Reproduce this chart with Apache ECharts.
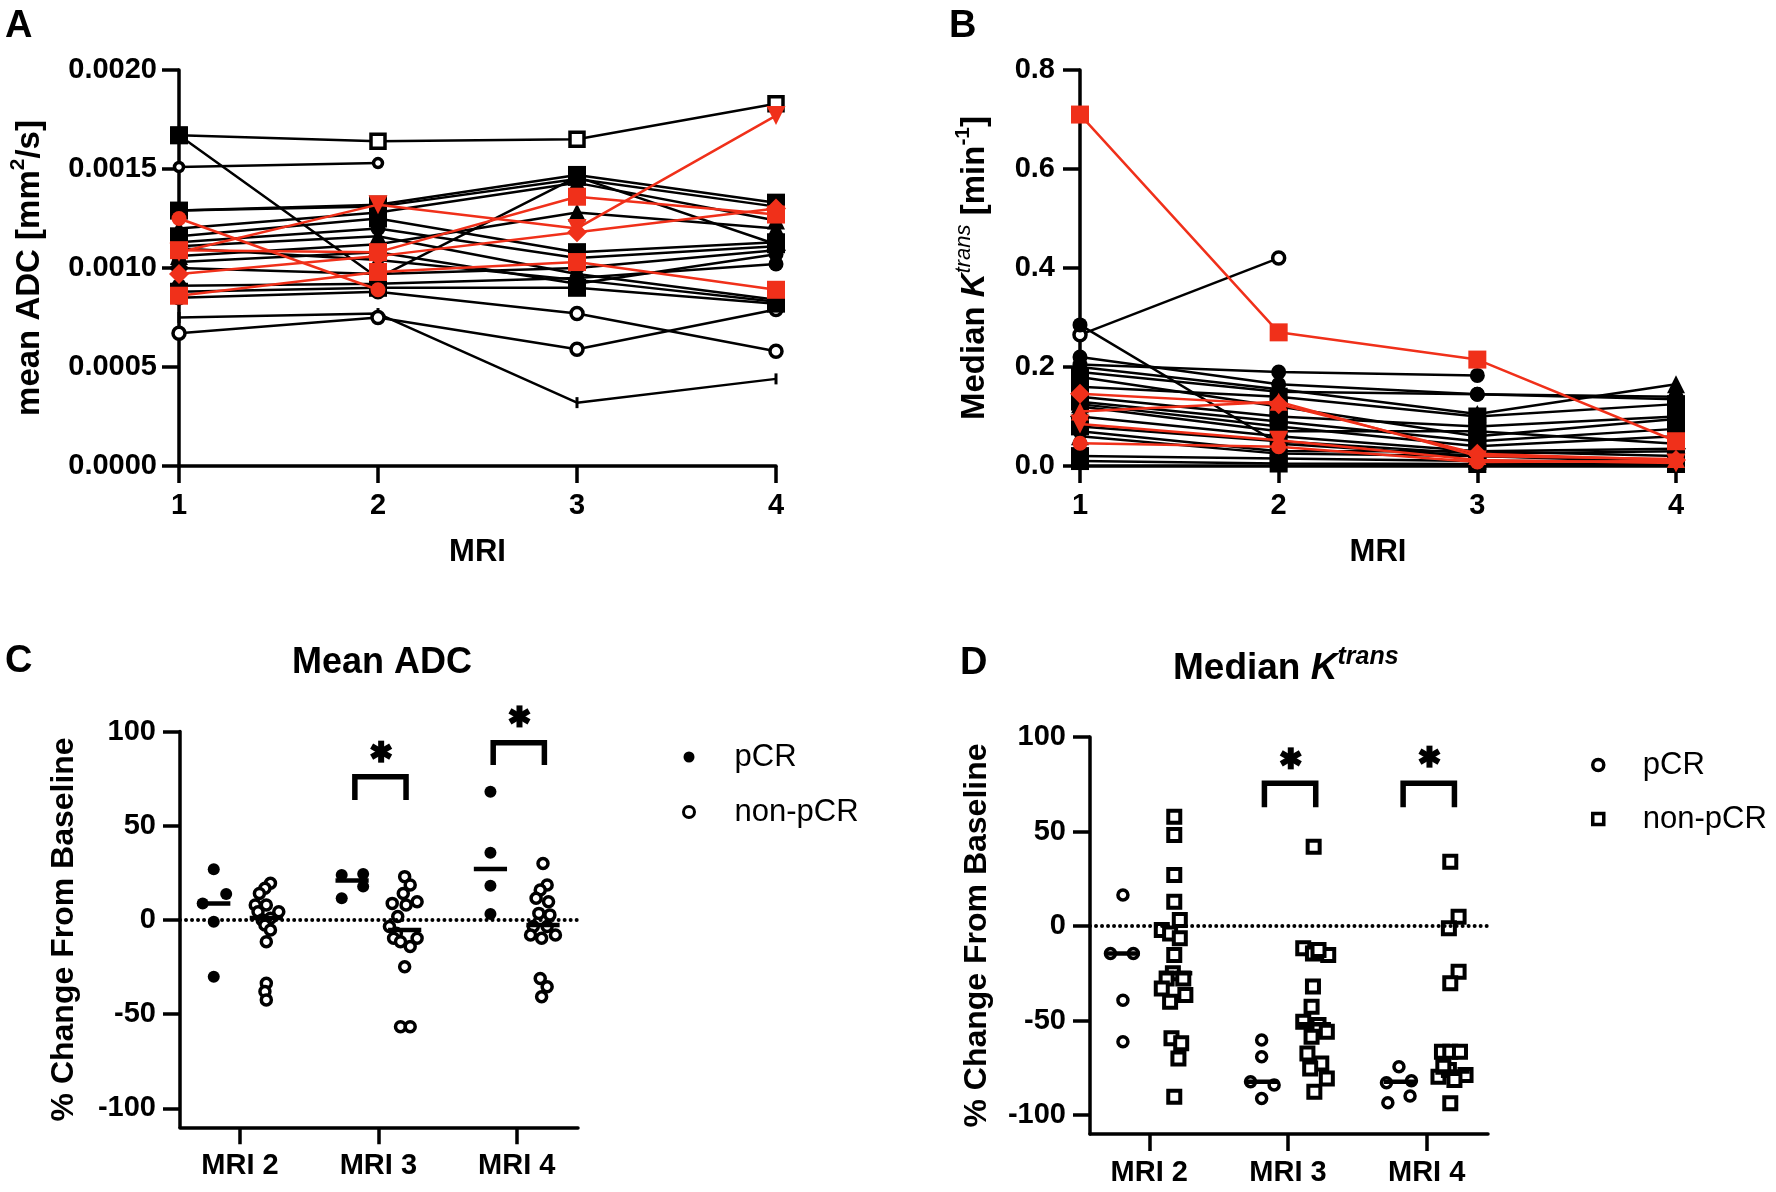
<!DOCTYPE html>
<html><head><meta charset="utf-8">
<script src="https://cdn.jsdelivr.net/npm/echarts@6/dist/echarts.min.js"></script>
<style>html,body{margin:0;padding:0;background:#fff}#c{width:1776px;height:1192px}</style>
</head><body><div id="c"></div>
<script>
// ---------- DATA ----------
const mriVisits = [1, 2, 3, 4];
const groupCats = ['MRI 2', 'MRI 3', 'MRI 4'];
const changeTicks = [-100, -50, 0, 50, 100];

// Panel A: mean ADC (mm^2/s) per patient at MRI 1..4 (null = missing)
const adcPcr = [
  [0.00125, 0.00089, null, null],
  [0.00108, 0.00132, 0.00120, 0.00177],
  [0.00109, 0.00108, 0.00136, 0.00127],
  [0.00097, 0.00106, 0.00118, 0.00130],
  [0.00086, 0.00098, 0.00103, 0.00089]
];
const adcPcrSym = ['ci', 'td', 'sq', 'dm', 'sq'];
const adcNon = [
  [0.00167, 0.00164, 0.00165, 0.00183],
  [0.00167, 0.00095, 0.00146, 0.00112],
  [0.00151, 0.00153, null, null],
  [0.00075, 0.00077, 0.00032, 0.00044],
  [0.00067, 0.00075, 0.00059, 0.00079],
  [0.00085, 0.00088, 0.00077, 0.00058],
  [0.00129, 0.00132, 0.00147, 0.00133],
  [0.00129, 0.00131, 0.00145, 0.00131],
  [0.00120, 0.00128, 0.00143, 0.00124],
  [0.00116, 0.00125, 0.00108, 0.00113],
  [0.00113, 0.00120, 0.00105, 0.00111],
  [0.00111, 0.00116, 0.00097, 0.00084],
  [0.00106, 0.00112, 0.00128, 0.00120],
  [0.00103, 0.00108, 0.00092, 0.00107],
  [0.00100, 0.00097, 0.00100, 0.00109],
  [0.00091, 0.00092, 0.00095, 0.00102],
  [0.00088, 0.00090, 0.00090, 0.00082],
  [0.00110, 0.00104, 0.00094, 0.00083]
];
const adcNonSym = ['osq','sq','sci','tk','oci','oci','sq','ci','tr','sq','ci','tr','tr','ci','dm','ci','sq','tr'];

// Panel B: median Ktrans (min^-1)
const ktrPcr = [
  [0.71, 0.27, 0.215, 0.05],
  [0.146, 0.125, 0.025, 0.012],
  [0.11, 0.13, 0.02, 0.014],
  [0.046, 0.039, 0.008, 0.01],
  [0.085, 0.052, 0.012, 0.006]
];
const ktrPcrSym = ['sq', 'dm', 'tr', 'ci', 'td'];
const ktrNon = [
  [0.265, 0.42, null, null],
  [0.285, 0.045, 0.02, 0.008],
  [0.22, 0.165, 0.145, 0.135],
  [0.205, 0.19, 0.183, null],
  [0.20, 0.155, 0.105, 0.165],
  [0.19, 0.15, 0.145, 0.14],
  [0.18, 0.12, 0.06, 0.095],
  [0.16, 0.14, 0.10, 0.125],
  [0.14, 0.10, 0.08, 0.10],
  [0.13, 0.09, 0.05, 0.075],
  [0.125, 0.08, 0.04, 0.06],
  [0.12, 0.07, 0.07, 0.045],
  [0.10, 0.06, 0.03, 0.035],
  [0.08, 0.05, 0.025, 0.03],
  [0.07, 0.03, 0.03, 0.02],
  [0.06, 0.025, 0.02, 0.012],
  [0.02, 0.015, 0.01, 0.01],
  [0.01, 0.005, 0.004, 0.004]
];
const ktrNonSym = ['oci','ci','ci','ci','tr','ci','sq','sq','sq','sq','tr','ci','dm','sq','ci','tr','sq','sq'];

// Panel C: % change of mean ADC; [x position (1=MRI 2 .. 3=MRI 4, jittered), value]
const cPcr = [
  [0.81, 26.9], [0.90, 13.8], [0.73, 8.8], [0.81, -0.9], [0.81, -30.1],
  [1.735, 11.5], [1.735, 23.9], [1.89, 24.4], [1.89, 17.7],
  [2.81, 68], [2.81, 35.7], [2.81, 18.2], [2.81, 3.2]
];
const cNon = [
  [1.22, 19.5], [1.18, 16.8], [1.14, 14.1], [1.11, 8.0], [1.19, 8.0], [1.13, 4.4], [1.28, 4.4], [1.22, 0.9],
  [1.16, 0], [1.18, -2.7], [1.22, -5.3], [1.19, -11.5], [1.19, -33.6], [1.18, -38], [1.19, -42.4],
  [2.19, 23], [2.23, 18.6], [2.18, 14.1], [2.28, 9.7], [2.10, 8.8], [2.20, 8], [2.14, 1.8], [2.08, -3.5],
  [2.13, -7], [2.11, -9.7], [2.28, -9.7], [2.16, -11.5], [2.23, -14.1], [2.19, -24.8], [2.16, -56.6], [2.23, -56.6],
  [3.19, 30], [3.22, 18.6], [3.17, 15.9], [3.14, 11.5], [3.23, 9.7], [3.16, 3.5], [3.24, 2.7], [3.12, -3.5],
  [3.22, -3.5], [3.10, -8], [3.18, -9.7], [3.28, -8], [3.17, -31], [3.22, -35.4], [3.18, -40.7]
];
const cPcrMedian = [8.8, 21, 27];
const cNonMedian = [1, -5.3, -2.7];
const cBrackets = [[2, 63.7, 76], [3, 82.2, 94]];   // [group, leg end, bar]
const cStars = [[2, 89.3], [3, 108]];

// Panel D: % change of median Ktrans
const dPcr = [
  [0.81, 16.4], [0.72, -14.5], [0.885, -14.5], [0.81, -39.2], [0.81, -61.2],
  [1.81, -60.3], [1.81, -69.1], [1.73, -82.4], [1.90, -84.1], [1.81, -91.2],
  [2.80, -74.4], [2.71, -82.9], [2.89, -81.8], [2.88, -89.9], [2.72, -93.5]
];
const dNon = [
  [1.18, 57.8], [1.18, 48.1], [1.18, 27], [1.18, 12.9], [1.22, 3.2], [1.09, -2.1], [1.15, -3.9], [1.22, -6.5],
  [1.18, -15.3], [1.17, -25], [1.125, -27.7], [1.245, -27.7], [1.09, -33], [1.26, -36.5], [1.15, -40],
  [1.16, -59.4], [1.23, -62], [1.21, -70], [1.18, -90.3],
  [2.185, 42], [2.11, -11.8], [2.18, -14.5], [2.29, -15.3], [2.22, -12.7], [2.18, -32], [2.17, -42.7],
  [2.11, -50.6], [2.22, -52.4], [2.28, -55.9], [2.17, -58.6], [2.14, -67.4], [2.24, -72.7], [2.16, -75.3],
  [2.28, -80.6], [2.19, -87.7],
  [3.17, 34], [3.23, 4.9], [3.16, -1.2], [3.23, -24.2], [3.17, -30.3], [3.11, -66.5], [3.17, -66.5],
  [3.24, -66.5], [3.085, -79.7], [3.28, -78.8], [3.16, -76.2], [3.20, -81.5], [3.17, -93.8], [3.12, -74.4]
];
const dPcrMedian = [-14.5, -82.4, -82.4];
const dNonMedian = [-25, -52, -77];
const dBrackets = [[2, 62.8, 75.5], [3, 62.8, 75.5]];
const dStars = [[2, 88.7], [3, 89.6]];

// ---------- STYLE ----------
const FONT = "'Liberation Sans', Arial, Helvetica, sans-serif";
const RED = '#f0301a';
const SYM = {
  sq:  {symbol: 'rect', size: 18, fill: true},
  osq: {symbol: 'rect', size: 14, fill: false},
  ci:  {symbol: 'circle', size: 15, fill: true},
  oci: {symbol: 'circle', size: 12, fill: false},
  sci: {symbol: 'circle', size: 9, fill: false},
  tr:  {symbol: 'triangle', size: 18, fill: true},
  dm:  {symbol: 'diamond', size: 20, fill: true},
  td:  {symbol: 'path://M0,0L10,0L5,9Z', size: 19, fill: true},
  tk:  {symbol: 'rect', size: [3, 11], fill: true}
};

function lineSeries(rows, syms, color, grid, z) {
  return rows.map((row, i) => {
    const s = SYM[syms[i]];
    return {
      type: 'line', xAxisIndex: grid, yAxisIndex: grid, z: z, clip: false,
      data: row.map((v, j) => v == null ? null : [mriVisits[j], v]).filter(Boolean),
      symbol: s.symbol, symbolSize: s.size, showSymbol: true,
      lineStyle: {color: color, width: 2.5},
      itemStyle: s.fill ? {color: color, opacity: 1} : {color: '#fff', borderColor: color, borderWidth: 3.5, opacity: 1},
      silent: true
    };
  });
}

function axisBase() {
  return {
    axisLine: {show: true, onZero: false, lineStyle: {color: '#000', width: 3.5}},
    axisTick: {show: true, length: 17, lineStyle: {color: '#000', width: 3.5}},
    splitLine: {show: false},
    axisLabel: {color: '#000', fontFamily: FONT, fontWeight: 'bold', fontSize: 29, margin: 24}
  };
}

function medianSeries(grid, meds, off) {
  return {
    type: 'custom', xAxisIndex: grid, yAxisIndex: grid, clip: false, silent: true, z: 6,
    data: meds.map((v, i) => [i + 1 + off, v]),
    renderItem: (p, api) => {
      const a = api.coord([api.value(0) - 0.12, api.value(1)]);
      const b = api.coord([api.value(0) + 0.12, api.value(1)]);
      return {type: 'line', shape: {x1: a[0], y1: a[1], x2: b[0], y2: b[1]}, style: {stroke: '#000', lineWidth: 4.5}};
    }
  };
}
function bracketSeries(grid, br) {
  return {
    type: 'custom', xAxisIndex: grid, yAxisIndex: grid, clip: false, silent: true, z: 6,
    data: br,
    renderItem: (p, api) => {
      const g = api.value(0), lo = api.value(1), hi = api.value(2);
      const pts = [[g - 0.17, lo], [g - 0.17, hi], [g + 0.2, hi], [g + 0.2, lo]].map(q => api.coord(q));
      return {type: 'polyline', shape: {points: pts}, style: {stroke: '#000', lineWidth: 5.5, fill: null, lineJoin: 'miter'}};
    }
  };
}
function starSeries(grid, st) {
  return {
    type: 'custom', xAxisIndex: grid, yAxisIndex: grid, clip: false, silent: true, z: 6,
    data: st,
    renderItem: (p, api) => {
      const c = api.coord([api.value(0) + 0.02, api.value(1)]);
      const r = 11;
      const kids = [90, 30, 150].map(deg => {
        const t = deg * Math.PI / 180;
        return {type: 'line', shape: {x1: c[0] - r * Math.cos(t), y1: c[1] - r * Math.sin(t), x2: c[0] + r * Math.cos(t), y2: c[1] + r * Math.sin(t)},
                style: {stroke: '#000', lineWidth: 6}};
      });
      return {type: 'group', children: kids};
    }
  };
}
function zeroLine() {
  return {
    silent: true, symbol: 'none', label: {show: false},
    lineStyle: {color: '#000', width: 4, type: [0.01, 6], cap: 'round', opacity: 1},
    data: [{yAxis: 0}]
  };
}

const richMain = (size) => ({
  b: {fontSize: size, fontWeight: 'bold', fontFamily: FONT, color: '#000', lineHeight: size + 10},
  k: {fontSize: size, fontWeight: 'bold', fontStyle: 'italic', fontFamily: FONT, color: '#000', lineHeight: size + 10},
  s: {fontSize: Math.round(size * 0.68), fontStyle: 'italic', fontFamily: FONT, color: '#000', verticalAlign: 'top', lineHeight: Math.round(size * 0.6)},
  u: {fontSize: Math.round(size * 0.64), fontWeight: 'bold', fontFamily: FONT, color: '#000', verticalAlign: 'top', lineHeight: Math.round(size * 0.6)}
});
const letterStyle = {fontSize: 38, fontWeight: 'bold', color: '#000', fontFamily: FONT};

const chart = echarts.init(document.getElementById('c'), null, {renderer: 'canvas'});

const option = {
  animation: false,
  backgroundColor: '#fff',
  textStyle: {fontFamily: FONT},
  title: [
    {text: 'A', left: 0, top: 3, textStyle: letterStyle},
    {text: 'B', left: 944, top: 3, textStyle: letterStyle},
    {text: 'C', left: 0, top: 638, textStyle: letterStyle},
    {text: 'D', left: 955, top: 640, textStyle: letterStyle},
    {text: 'Mean ADC', left: 287, top: 640, textStyle: {fontSize: 36, fontWeight: 'bold', color: '#000', fontFamily: FONT}},
    {text: '{b|Median }{k|K}{s|trans}', left: 1168, top: 640, textStyle: {rich: richMain(37)}}
  ],
  legend: [
    {data: ['pCR', 'non-pCR'], orient: 'vertical', left: 682, top: 740, padding: 0, itemWidth: 11, itemHeight: 11, itemGap: 21,
     selectedMode: false, itemStyle: {borderWidth: 3, opacity: 1},
     textStyle: {fontSize: 31, lineHeight: 34, fontFamily: FONT, color: '#000', padding: [0, 0, 0, 35]}},
    {data: ['pCR ', 'non-pCR '], orient: 'vertical', left: 1591, top: 748, padding: 0, itemWidth: 11, itemHeight: 11, itemGap: 20,
     selectedMode: false, itemStyle: {borderWidth: 3.5, opacity: 1}, formatter: n => n.trim(),
     textStyle: {fontSize: 31, lineHeight: 34, fontFamily: FONT, color: '#000', padding: [0, 0, 0, 34]}}
  ],
  grid: [
    {left: 179, top: 70, width: 597, height: 396},
    {left: 1080, top: 70, width: 596, height: 396},
    {left: 180, top: 731.5, width: 398, height: 395.8},
    {left: 1090, top: 737, width: 398, height: 397}
  ],
  xAxis: [
    Object.assign(axisBase(), {type: 'value', gridIndex: 0, min: 1, max: 4, interval: 1, name: 'MRI', nameLocation: 'middle', nameGap: 71,
      nameTextStyle: {fontSize: 31, fontWeight: 'bold', color: '#000', fontFamily: FONT}}),
    Object.assign(axisBase(), {type: 'value', gridIndex: 1, min: 1, max: 4, interval: 1, name: 'MRI', nameLocation: 'middle', nameGap: 71,
      nameTextStyle: {fontSize: 31, fontWeight: 'bold', color: '#000', fontFamily: FONT}}),
    Object.assign(axisBase(), {type: 'value', gridIndex: 2, min: 0.566, max: 3.443}),
    Object.assign(axisBase(), {type: 'value', gridIndex: 3, min: 0.5725, max: 3.442})
  ],
  yAxis: [
    Object.assign(axisBase(), {type: 'value', gridIndex: 0, min: 0, max: 0.002, interval: 0.0005,
      name: '{b|mean ADC [mm}{u|2}{b|/s]}', nameLocation: 'middle', nameGap: 128, nameRotate: 90,
      nameTextStyle: {rich: richMain(33)}}),
    Object.assign(axisBase(), {type: 'value', gridIndex: 1, min: 0, max: 0.8, interval: 0.2,
      name: '{b|Median }{k|K}{s|trans}{b| [min}{u|-1}{b|]}', nameLocation: 'middle', nameGap: 84, nameRotate: 90,
      nameTextStyle: {rich: richMain(33)}}),
    Object.assign(axisBase(), {type: 'value', gridIndex: 2, min: -110, max: 100,
      name: '% Change From Baseline', nameLocation: 'middle', nameGap: 100, nameRotate: 90,
      nameTextStyle: {fontSize: 32, fontWeight: 'bold', color: '#000', fontFamily: FONT}}),
    Object.assign(axisBase(), {type: 'value', gridIndex: 3, min: -110, max: 100,
      name: '% Change From Baseline', nameLocation: 'middle', nameGap: 97, nameRotate: 90,
      nameTextStyle: {fontSize: 32, fontWeight: 'bold', color: '#000', fontFamily: FONT}})
  ],
  series: []
};

// axis label details
option.xAxis[0].axisLabel.margin = 25;
option.xAxis[1].axisLabel.margin = 25;
option.yAxis[0].axisLabel.formatter = v => v.toFixed(4);
option.yAxis[0].axisLabel.margin = 22;
option.yAxis[1].axisLabel.formatter = v => v.toFixed(1);
option.yAxis[1].axisLabel.margin = 25;
[2, 3].forEach(i => {
  option.xAxis[i].axisLabel.customValues = [1, 2, 3];
  option.xAxis[i].axisTick.customValues = [1, 2, 3];
  option.xAxis[i].axisLabel.formatter = v => groupCats[Math.round(v) - 1];
  option.xAxis[i].axisLabel.fontSize = 29;
  option.xAxis[i].axisLabel.margin = 24;
  option.yAxis[i].axisLabel.customValues = changeTicks;
  option.yAxis[i].axisTick.customValues = changeTicks;
  option.yAxis[i].axisLabel.margin = 24;
});

option.series = [].concat(
  lineSeries(adcNon, adcNonSym, '#000', 0, 2),
  lineSeries(adcPcr, adcPcrSym, RED, 0, 3),
  lineSeries(ktrNon, ktrNonSym, '#000', 1, 2),
  lineSeries(ktrPcr, ktrPcrSym, RED, 1, 3),
  [
    {name: 'pCR', type: 'scatter', xAxisIndex: 2, yAxisIndex: 2, data: cPcr, symbol: 'circle', symbolSize: 12,
     itemStyle: {color: '#000', opacity: 1}, z: 4, markLine: zeroLine(), silent: true},
    {name: 'non-pCR', type: 'scatter', xAxisIndex: 2, yAxisIndex: 2, data: cNon, symbol: 'circle', symbolSize: 10,
     itemStyle: {color: '#fff', borderColor: '#000', borderWidth: 3.5, opacity: 1}, z: 4, silent: true},
    medianSeries(2, cPcrMedian, -0.19), medianSeries(2, cNonMedian, 0.19),
    bracketSeries(2, cBrackets), starSeries(2, cStars),
    {name: 'pCR ', type: 'scatter', xAxisIndex: 3, yAxisIndex: 3, data: dPcr, symbol: 'circle', symbolSize: 10,
     itemStyle: {color: '#fff', borderColor: '#000', borderWidth: 3.5, opacity: 1}, z: 4, markLine: zeroLine(), silent: true},
    {name: 'non-pCR ', type: 'scatter', xAxisIndex: 3, yAxisIndex: 3, data: dNon, symbol: 'rect', symbolSize: 12,
     itemStyle: {color: '#fff', borderColor: '#000', borderWidth: 4, opacity: 1}, z: 4, silent: true},
    medianSeries(3, dPcrMedian, -0.19), medianSeries(3, dNonMedian, 0.19),
    bracketSeries(3, dBrackets), starSeries(3, dStars)
  ]
);

chart.setOption(option);
</script>
</body></html>
